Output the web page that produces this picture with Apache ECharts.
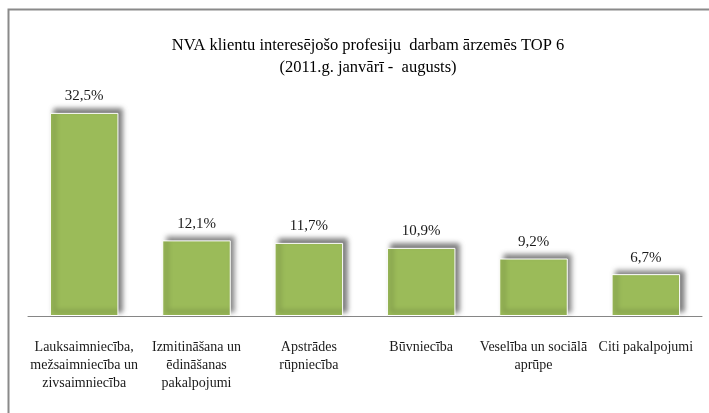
<!DOCTYPE html>
<html>
<head>
<meta charset="utf-8">
<script src="https://cdn.jsdelivr.net/npm/echarts@6/dist/echarts.min.js"></script>
<style>
  html, body { margin: 0; padding: 0; background: #fff; }
  #chart { width: 709px; height: 413px; }
</style>
</head>
<body>
<div id="chart"></div>
<script>
// profesiju grupas un to daļa (%)
var categories = [
  'Lauksaimniecība,\nmežsaimniecība un\nzivsaimniecība',
  'Izmitināšana un\nēdināšanas\npakalpojumi',
  'Apstrādes\nrūpniecība',
  'Būvniecība',
  'Veselība un sociālā\naprūpe',
  'Citi pakalpojumi'
];
var values = [32.5, 12.1, 11.7, 10.9, 9.2, 6.7];
var titleLines = [
  'NVA klientu interesējošo profesiju  darbam ārzemēs TOP 6',
  '(2011.g. janvārī -  augusts)'
];

var serif = '"Liberation Serif", "DejaVu Serif", serif';
var myChart = echarts.init(document.getElementById('chart'));

myChart.setOption({
  backgroundColor: '#fff',
  animation: false,
  graphic: [{
    type: 'rect',
    z: -10,
    shape: { x: 8.5, y: 9.5, width: 720, height: 420 },
    style: { fill: '#fff', stroke: '#8a8a8a', lineWidth: 2 }
  }],
  title: {
    text: titleLines.join('\n'),
    left: 363,
    top: 30,
    textAlign: 'center',
    textStyle: {
      fontFamily: serif,
      fontSize: 16.5,
      fontWeight: 'normal',
      color: '#000',
      lineHeight: 22
    }
  },
  grid: {
    left: 28,
    right: 7,
    top: 66,
    bottom: 97,
    containLabel: false
  },
  xAxis: {
    type: 'category',
    data: categories,
    axisTick: { show: false },
    axisLine: { lineStyle: { color: '#868686', width: 1 } },
    axisLabel: {
      interval: 0,
      margin: 22,
      fontFamily: serif,
      fontSize: 14,
      lineHeight: 18,
      color: '#1a1a1a'
    }
  },
  yAxis: {
    type: 'value',
    min: 0,
    max: 40,
    show: false,
    splitLine: { show: false }
  },
  series: [{
    type: 'bar',
    data: values,
    barCategoryGap: '39%',
    itemStyle: {
      color: '#9bbb59',
      borderColor: '#ffffff',
      borderWidth: 1,
      shadowColor: 'rgba(0,0,0,0.5)',
      shadowBlur: 5,
      shadowOffsetX: 4,
      shadowOffsetY: -4
    },
    label: {
      show: true,
      position: 'top',
      distance: 9,
      fontFamily: serif,
      fontSize: 15,
      color: '#1a1a1a',
      formatter: function (p) {
        return p.value.toFixed(1).replace('.', ',') + '%';
      }
    }
  }]
});
</script>
</body>
</html>
